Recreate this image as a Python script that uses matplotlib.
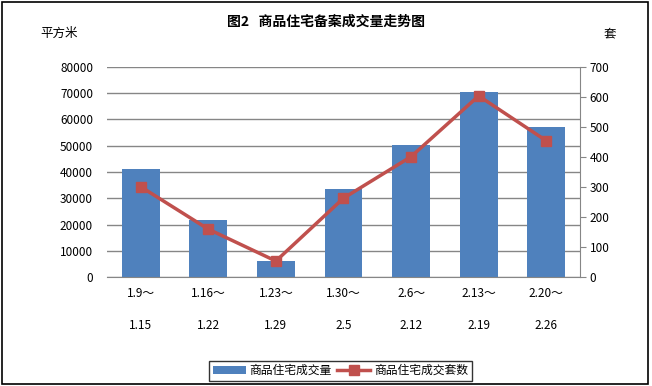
import numpy as np
import matplotlib.pyplot as plt
from matplotlib.patches import Rectangle

plt.rcParams['font.family'] = ['Noto Sans CJK SC', 'DejaVu Sans']

start_dates = ['1.9～', '1.16～', '1.23～', '1.30～', '2.6～', '2.13～', '2.20～']
end_dates = ['1.15', '1.22', '1.29', '2.5', '2.12', '2.19', '2.26']
area = [41200, 21800, 6200, 33500, 50300, 70400, 57100]   # 平方米
units = [301, 160, 54, 263, 401, 603, 454]                # 套

bar_color = '#4f81bd'
line_color = '#c0504d'
grid_color = '#868686'

fig = plt.figure(figsize=(6.52, 3.86), dpi=100)
ax = fig.add_axes([0.164, 0.2816, 0.7256, 0.5456])
x = np.arange(len(area))

ax.bar(x, area, width=0.56, color=bar_color, zorder=2, label='商品住宅成交量')
ax.set_ylim(0, 80000)
ax.set_xlim(-0.5, len(area) - 0.5)
ax.set_yticks(np.arange(0, 80001, 10000))
ax.yaxis.grid(True, color=grid_color, linewidth=1)
ax.set_axisbelow(True)
for s in ['left', 'right', 'top']:
    ax.spines[s].set_visible(False)
ax.spines['bottom'].set_color(grid_color)
ax.tick_params(axis='y', length=0, labelsize=8.5, pad=10)
ax.tick_params(axis='x', length=0)
ax.set_xticks(x)
ax.set_xticklabels([])

for i in x:
    ax.text(i, -0.075, start_dates[i], transform=ax.get_xaxis_transform(),
            ha='center', va='center', fontsize=8.5)
    ax.text(i, -0.23, end_dates[i], transform=ax.get_xaxis_transform(),
            ha='center', va='center', fontsize=8.5)

ax2 = ax.twinx()
ax2.plot(x, units, color=line_color, linewidth=2.5, marker='s', markersize=7,
         zorder=3, label='商品住宅成交套数')
ax2.set_ylim(0, 700)
ax2.set_yticks(np.arange(0, 701, 100))
for s in ['left', 'top', 'bottom']:
    ax2.spines[s].set_visible(False)
ax2.spines['right'].set_color(grid_color)
ax2.tick_params(axis='y', color=grid_color, length=4, labelsize=8.5, pad=3)

fig.text(0.5, 0.945, '图2   商品住宅备案成交量走势图', ha='center', va='center',
         fontsize=10, fontweight='bold')
fig.text(0.09, 0.913, '平方米', ha='center', va='center', fontsize=9)
fig.text(0.936, 0.913, '套', ha='center', va='center', fontsize=9)

h1, l1 = ax.get_legend_handles_labels()
h2, l2 = ax2.get_legend_handles_labels()
fig.legend(h1 + h2, l1 + l2, loc='center', bbox_to_anchor=(0.522, 0.04),
           ncol=2, fontsize=8.5, frameon=True, fancybox=False,
           edgecolor='black', handlelength=2.8, columnspacing=0.5,
           borderpad=0.3, handletextpad=0.3)

fig.patches.append(Rectangle((0.003, 0.005), 0.991, 0.99, transform=fig.transFigure,
                             fill=False, edgecolor='black', linewidth=1.2))

fig.savefig('out.png', dpi=100)
